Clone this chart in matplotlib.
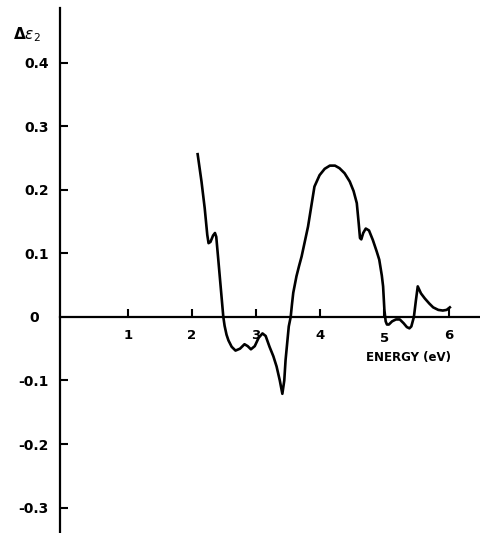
import matplotlib

matplotlib.use("Agg")
import matplotlib.pyplot as plt
import matplotlib.transforms as mtransforms

# Delta eps_2 spectrum
energy = [2.09, 2.15, 2.20, 2.24, 2.26, 2.29, 2.33, 2.36, 2.38, 2.41, 2.45, 2.49,
          2.51, 2.54, 2.57, 2.62, 2.68, 2.75, 2.82, 2.87, 2.92, 2.98, 3.04, 3.10,
          3.15, 3.21, 3.27, 3.32, 3.37, 3.41, 3.44, 3.46, 3.51, 3.54, 3.56, 3.58,
          3.63, 3.67, 3.71, 3.81, 3.91, 3.99, 4.07, 4.15, 4.23, 4.30, 4.38, 4.46,
          4.52, 4.57, 4.60, 4.62, 4.64, 4.67, 4.71, 4.76, 4.82, 4.88, 4.92, 4.96,
          4.98, 5.00, 5.02, 5.04, 5.07, 5.12, 5.18, 5.24, 5.30, 5.35, 5.39, 5.42,
          5.46, 5.49, 5.52, 5.57, 5.63, 5.70, 5.76, 5.84, 5.91, 5.97, 6.02]
deps2 = [0.256, 0.213, 0.171, 0.129, 0.116, 0.118, 0.128, 0.132, 0.126, 0.092, 0.046, 0.0,
         -0.014, -0.028, -0.037, -0.047, -0.053, -0.050, -0.043, -0.046, -0.051, -0.046, -0.033, -0.026,
         -0.030, -0.047, -0.062, -0.078, -0.100, -0.121, -0.100, -0.068, -0.015, 0.0, 0.020, 0.038,
         0.064, 0.080, 0.095, 0.142, 0.205, 0.223, 0.233, 0.238, 0.238, 0.234, 0.226, 0.213,
         0.198, 0.179, 0.147, 0.124, 0.122, 0.132, 0.139, 0.136, 0.121, 0.103, 0.090, 0.065,
         0.048, 0.011, -0.007, -0.012, -0.012, -0.007, -0.004, -0.004, -0.010, -0.016, -0.018, -0.015,
         0.0, 0.025, 0.048, 0.037, 0.029, 0.021, 0.015, 0.011, 0.010, 0.011, 0.015]

xticks = [1, 2, 3, 4, 5, 6]
yticks = [0.4, 0.3, 0.2, 0.1, 0, -0.1, -0.2, -0.3]
ytick_labels = ["0.4", "0.3", "0.2", "0.1", "0", "-0.1", "-0.2", "-0.3"]


def main():
    fig = plt.figure(figsize=(4.8, 5.33), dpi=100)
    ax = fig.add_axes([0.125, 0.0, 0.875, 0.985])
    ax.plot(energy, deps2, color="black", lw=1.9, solid_joinstyle="round")

    ax.set_xlim(-0.055, 6.49)
    ax.set_ylim(-0.34, 0.486)

    for s in ["top", "right"]:
        ax.spines[s].set_visible(False)
    ax.spines["bottom"].set_position(("data", 0))
    ax.spines["left"].set_linewidth(1.6)
    ax.spines["bottom"].set_linewidth(1.6)

    ax.set_xticks(xticks)
    ax.set_xticklabels([str(t) for t in xticks], fontsize=9.5, fontweight="bold")
    ax.set_yticks(yticks)
    ax.set_yticklabels(ytick_labels, fontsize=10, fontweight="bold")
    ax.tick_params(axis="x", direction="in", length=6, width=1.5, pad=9)
    ax.tick_params(axis="y", direction="in", length=6, width=1.5, pad=8)
    # the "0" tick sits under the x axis; its label is set in from the others
    ax.yaxis.get_major_ticks()[4].tick1line.set_visible(False)
    zero_lab = ax.get_yticklabels()[4]
    zero_lab.set_transform(zero_lab.get_transform() +
                           mtransforms.ScaledTranslation(-0.1, 0, fig.dpi_scale_trans))
    five_lab = ax.get_xticklabels()[4]
    five_lab.set_transform(five_lab.get_transform() +
                           mtransforms.ScaledTranslation(0, -0.025, fig.dpi_scale_trans))

    ax.text(5.38, -0.064, "ENERGY (eV)", fontsize=8.5, fontweight="bold",
            ha="center", va="center")
    fig.text(0.055, 0.935, r"$\mathbf{\Delta}\epsilon_2$", fontsize=11,
             ha="center", va="center")

    fig.savefig("out.png", dpi=100)


if __name__ == "__main__":
    main()
